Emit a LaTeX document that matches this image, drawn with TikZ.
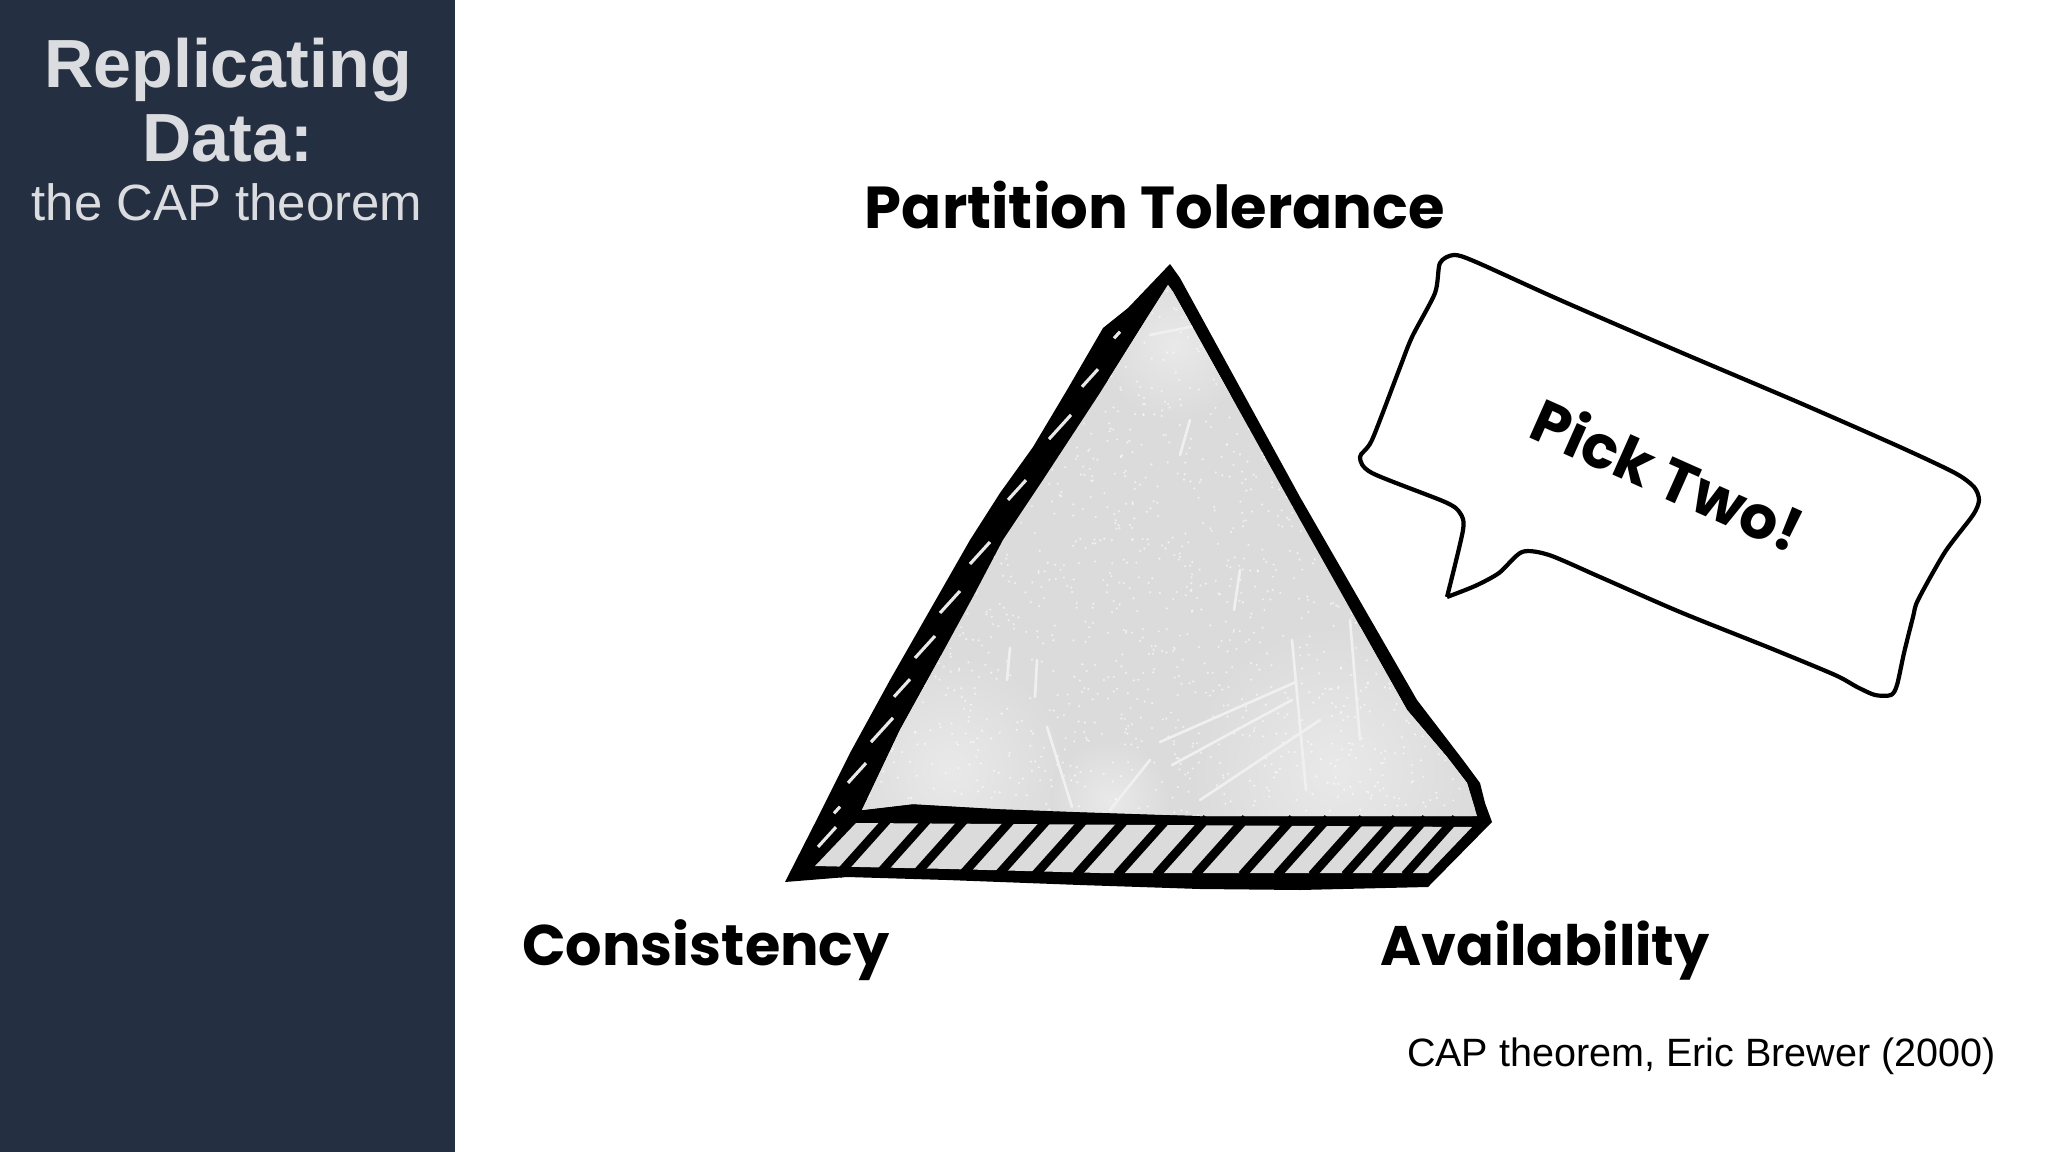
\documentclass[tikz,border=0pt]{standalone}
\usepackage{fontspec}
\setmainfont{Liberation Sans}
\newfontfamily\sketchfont{Poppins}
\usetikzlibrary{positioning}
\definecolor{sidebar}{HTML}{252F42}
\definecolor{titlegray}{HTML}{DBDCDF}
\definecolor{pyramid}{HTML}{DADBDA}
\definecolor{paler}{HTML}{E9E9E9}
\definecolor{scratch}{HTML}{F0F0F0}
\tikzset{
    title/.style={text=titlegray,anchor=base,font=\fontsize{38.8}{39}\selectfont\bfseries},
    subtitle/.style={text=titlegray,anchor=base,font=\fontsize{29}{29}\selectfont},
    corner/.style={anchor=base,font=\fontsize{#1}{#1}\sketchfont\bfseries},
    credit/.style={anchor=base east,font=\fontsize{22.5}{22.5}\selectfont},
    hatch/.style={line width=5pt},
    slot/.style={paler,line width=1.8pt},
    streak/.style={scratch,line width=1.5pt,line cap=round},
    patch/.style={inner color=paler,outer color=pyramid}
}
\begin{document}
\begin{tikzpicture}[x=0.02cm,y=-0.02cm]
    \useasboundingbox (0,0) rectangle (2048,1152);
    \fill[white] (0,0) rectangle (2048,1152);
    \fill[sidebar] (0,0) rectangle (455,1152);

    \node[title] (replicating) at (228,88) {Replicating};
    \node[title] (data) at (228,162) {Data:};
    \node[subtitle] (cap) at (227,221) {the CAP theorem};

    % the pyramid: black body first, the faces on top
    \fill[black,line join=round] (1170,264) -- (1128,308) -- (1103,328) -- (1067,390) -- (1033,447)
        -- (1000,493) -- (970,540) -- (930,610) -- (890,680) -- (850,753) -- (815,823) -- (785,882)
        -- (847,877) -- (947,880) -- (1080,885) -- (1200,889) -- (1300,890) -- (1428,887)
        -- (1492,822) -- (1485,803) -- (1480,783) -- (1463,760) -- (1440,730) -- (1417,700)
        -- (1300,497) -- (1180,278) -- cycle;
    \begin{scope}
        \clip (1168,285) -- (1147,318) -- (1100,393) -- (1043,480) -- (1003,540) -- (973,597)
            -- (937,663) -- (900,730) -- (862,810) -- (913,804) -- (1000,809) -- (1080,812)
            -- (1200,816) -- (1477,816) -- (1467,783) -- (1447,757) -- (1407,710) -- (1300,520)
            -- (1173,292) -- cycle;
        \fill[pyramid] (850,270) rectangle (1490,820);
        % paler patches
        \shade[patch] (1175,345) circle (75);
        \shade[patch] (950,770) circle (115);
        \shade[patch] (1335,770) circle (145);
        \shade[patch] (1110,800) circle (60);
        % speckle
        \pgfmathsetseed{4}
        \foreach \i in {1,...,1800}
            \fill[white,opacity=.6] ({860+rnd*620},{285+rnd*530}) circle (1.2);
        % scratches on the front face
        \foreach \xa/\ya/\xb/\yb in {1010/648/1007/680, 1037/660/1035/697, 1047/727/1072/807,
            1190/420/1180/455, 1296/682/1160/742, 1292/700/1172/765, 1292/640/1306/790,
            1350/620/1360/740, 1240/570/1234/610, 1150/335/1200/325, 1150/760/1110/810,
            1200/800/1320/720}
            \draw[streak] (\xa,\ya) -- (\xb,\yb);
    \end{scope}

    % slots in the left face
    \foreach \x/\y/\r in {1117/335/3, 1090/378/8, 1060/427/11, 1017/490/9, 980/553/10, 950/602/10,
        925/647/10, 902/688/8, 882/730/11, 857/773/9, 837/810/3, 827/837/9}
        \draw[slot] (\x-\r,\y+\r*1.1) -- (\x+\r,\y-\r*1.1);

    % stripes in the bottom face
    \fill[pyramid] (856,823) -- (1472,827) -- (1428,873) -- (1100,873) -- (950,869) -- (815,866) -- cycle;
    \foreach \x in {883,923,960,1007,1043,1080,1121,1162,1201,1240,1287,1322,1357,1390,1420,1450}
        \draw[hatch] (\x+6,818) -- (\x-45,875);

    % the speech bubble
    \draw[line width=2.4pt,line join=round] plot[smooth,tension=.45] coordinates {
        (1447,597) (1475,586) (1499,573) (1522,552) (1549,555) (1600,577) (1680,612) (1770,648)
        (1835,675) (1857,687) (1875,695) (1891,695) (1897,685) (1904,653) (1913,617) (1918,600)
        (1945,552) (1973,515) (1979,500) (1974,487) (1955,473) (1900,447) (1800,403) (1680,352)
        (1560,300) (1476,262) (1454,255) (1440,263) (1435,293) (1412,337) (1399,370) (1372,440)
        (1360,457) (1372,473) (1445,502) (1460,513) (1463,530) (1447,597)};
    \node[rotate=-24,font=\fontsize{34}{34}\sketchfont\bfseries] (pickTwo) at (1668,474) {Pick Two!};

    \node[corner=33.7] (partition) at (1155,229) {Partition Tolerance};
    \node[corner=32.6] (consistency) at (706,965) {Consistency};
    \node[corner=31.7] (availability) at (1545,965) {Availability};

    \node[credit] (brewer) at (2002,1066) {CAP theorem, Eric Brewer (2000)};
\end{tikzpicture}
\end{document}
